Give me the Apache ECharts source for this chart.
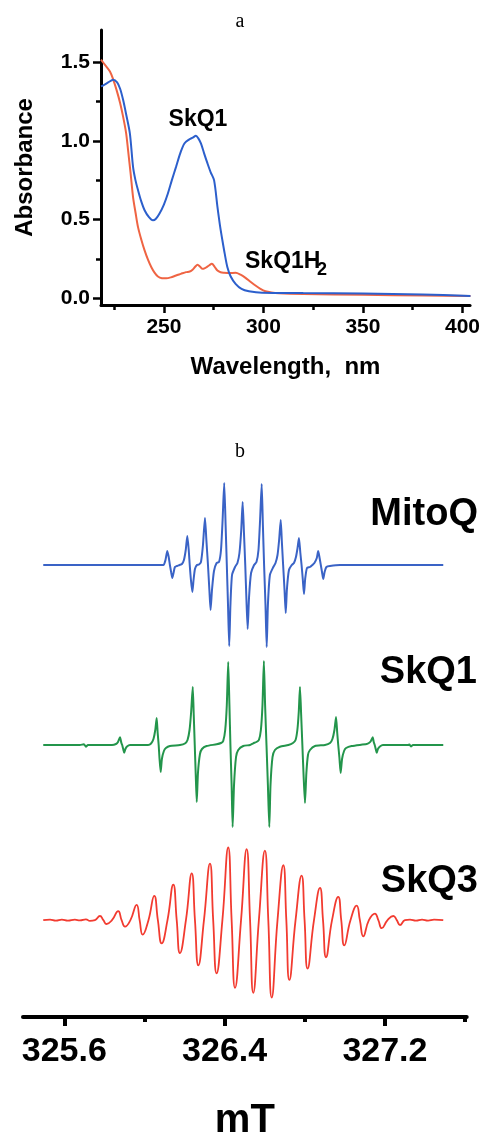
<!DOCTYPE html>
<html>
<head>
<meta charset="utf-8">
<script src="https://cdn.jsdelivr.net/npm/echarts@6/dist/echarts.min.js"></script>
<style>
html,body{margin:0;padding:0;background:#fff;}
#main{width:483px;height:1142px;}
</style>
</head>
<body>
<div id="main"></div>
<script>
// panel a: absorbance spectra [wavelength nm, absorbance]
var skq1Abs = [[218.4,1.345],[220,1.355],[222,1.37],[224.5,1.387],[226.5,1.37],[228,1.33],[229.5,1.26],[231,1.17],[232.9,1.047],[234.5,0.834],[235.7,0.75],[237,0.686],[238.5,0.62],[240.3,0.559],[242.5,0.515],[244.5,0.495],[246,0.505],[247.8,0.538],[250,0.595],[252,0.665],[254,0.75],[256.1,0.834],[258.2,0.92],[260.3,0.983],[262.8,1.009],[264.5,1.02],[266.1,1.032],[267.3,1.015],[268.6,0.983],[270.2,0.92],[271.9,0.856],[273.5,0.8],[275.2,0.75],[276.9,0.58],[278.2,0.46],[279.4,0.367],[280.6,0.28],[281.9,0.197],[283.5,0.14],[286,0.092],[289,0.06],[292.7,0.045],[299.3,0.035],[320,0.033],[350,0.03],[380,0.024],[404,0.015]];
var skq1h2Abs = [[218.4,1.515],[220.5,1.48],[222.9,1.44],[224.5,1.39],[226.2,1.323],[228,1.24],[229.5,1.153],[231,1.05],[232,0.94],[233.3,0.79],[234.5,0.643],[235.8,0.54],[237,0.452],[238.7,0.37],[240.3,0.304],[242,0.245],[243.7,0.197],[245.3,0.163],[247,0.138],[249,0.128],[251.2,0.127],[253.5,0.133],[256.1,0.145],[258.5,0.155],[261.1,0.166],[263,0.17],[264.4,0.181],[265.7,0.2],[266.9,0.213],[268.2,0.2],[269.4,0.187],[270.4,0.19],[271.4,0.197],[272.8,0.21],[274.1,0.219],[275.5,0.2],[276.9,0.176],[278.5,0.165],[280.2,0.162],[283,0.16],[286,0.162],[288.5,0.15],[291,0.13],[293.5,0.105],[296,0.081],[298.5,0.06],[301,0.045],[304,0.037],[307.6,0.032],[320,0.027],[350,0.022],[380,0.018],[404,0.014]];
var absXTicks = [250, 300, 350, 400];
var absXMinor = [225, 275, 325, 375];
var absYTicks = [0, 0.5, 1.0, 1.5];
var absYMinor = [0.25, 0.75, 1.25];

// panel b: EPR spectra [field mT, signal a.u.]
var mitoq = [[325.495,0],[325.778,0],[325.978,0],[326.077,0],[326.095,0],[326.105,5],[326.114,14],[326.121,8],[326.127,0],[326.134,-8],[326.139,-13],[326.145,-8],[326.152,-2],[326.162,-1],[326.175,0],[326.187,1],[326.197,5],[326.206,15],[326.214,29],[326.221,15],[326.226,0],[326.232,-15],[326.239,-27],[326.245,-15],[326.252,-4],[326.262,0],[326.272,0.5],[326.282,3],[326.292,20],[326.302,47],[326.309,25],[326.317,0],[326.324,-25],[326.330,-45],[326.337,-25],[326.347,-6],[326.360,2],[326.372,3],[326.382,15],[326.390,45],[326.398,82],[326.405,40],[326.411,0],[326.417,-40],[326.423,-81],[326.429,-40],[326.437,-10],[326.452,-2],[326.464,2],[326.474,12],[326.483,35],[326.490,63],[326.497,30],[326.503,0],[326.509,-35],[326.515,-64],[326.522,-32],[326.532,-8],[326.547,0],[326.559,3],[326.569,15],[326.577,45],[326.585,81],[326.591,40],[326.597,0],[326.604,-40],[326.610,-82],[326.616,-40],[326.626,-10],[326.643,-2],[326.654,2],[326.664,10],[326.672,25],[326.680,45],[326.686,22],[326.692,0],[326.699,-25],[326.705,-48],[326.711,-24],[326.721,-5],[326.735,0],[326.746,2],[326.756,8],[326.764,17],[326.771,27],[326.778,12],[326.784,0],[326.790,-14],[326.796,-29],[326.802,-14],[326.811,-3],[326.826,-2],[326.838,0],[326.848,2],[326.860,7],[326.867,14],[326.874,7],[326.880,0],[326.886,-7],[326.892,-14],[326.899,-7],[326.908,-2],[326.926,-1],[326.976,0],[327.491,0]];
var skq1 = [[325.495,0],[325.678,0],[325.698,0.7],[325.708,-1.7],[325.718,0],[325.838,0],[325.858,1],[325.868,3],[325.878,7.7],[325.885,2],[325.889,0],[325.894,-4],[325.899,-7.7],[325.905,-4],[325.913,-1.5],[325.928,0],[326.018,0],[326.033,1.5],[326.045,6],[326.054,15],[326.061,27],[326.066,12],[326.071,0],[326.075,-13],[326.081,-27],[326.087,-14],[326.097,-6],[326.107,-3],[326.127,-1],[326.177,0],[326.202,1.5],[326.215,5],[326.225,15],[326.233,33],[326.241,58],[326.246,30],[326.251,0],[326.256,-30],[326.261,-57],[326.267,-28],[326.277,-9],[326.287,-4],[326.310,-1],[326.360,0.7],[326.382,2],[326.393,4],[326.403,15],[326.411,40],[326.418,83],[326.424,40],[326.429,0],[326.435,-40],[326.440,-82],[326.447,-40],[326.457,-12],[326.468,-5],[326.493,-1],[326.527,0],[326.543,1.7],[326.559,3],[326.571,5],[326.581,15],[326.589,40],[326.596,84],[326.602,40],[326.609,0],[326.616,-40],[326.623,-82],[326.629,-40],[326.639,-12],[326.651,-5],[326.676,-1.7],[326.718,0],[326.741,2],[326.754,5],[326.763,15],[326.770,33],[326.776,58],[326.782,30],[326.788,0],[326.794,-30],[326.801,-58],[326.808,-28],[326.816,-10],[326.826,-5],[326.851,-1],[326.901,0],[326.926,2],[326.938,6],[326.948,15],[326.956,28],[326.962,12],[326.967,0],[326.973,-13],[326.979,-28],[326.986,-14],[326.996,-6],[327.006,-3],[327.034,-1],[327.109,1],[327.120,2],[327.130,4],[327.139,7.7],[327.144,3],[327.149,0],[327.154,-4],[327.159,-7.7],[327.165,-4],[327.175,-1.5],[327.190,0],[327.315,0],[327.322,0.5],[327.330,-1.5],[327.340,0],[327.491,0]];
var skq3 = [[325.495,0],[325.529,0.5],[325.558,-0.5],[325.588,0.5],[325.618,-0.5],[325.653,0.5],[325.678,-0.3],[325.708,0.8],[325.728,-0.8],[325.753,0],[325.778,4.3],[325.795,0],[325.811,-4],[325.838,0],[325.869,9.3],[325.886,0],[325.903,-6.7],[325.930,0],[325.961,15.7],[325.976,0],[325.991,-15],[326.020,0],[326.049,25],[326.067,0],[326.086,-24],[326.115,0],[326.144,36.7],[326.161,0],[326.177,-34],[326.207,0],[326.236,48.3],[326.252,0],[326.269,-46.7],[326.297,0],[326.327,58.3],[326.343,0],[326.360,-55],[326.389,0],[326.418,75],[326.435,0],[326.452,-70],[326.482,0],[326.510,73.3],[326.527,0],[326.543,-75],[326.571,0],[326.601,71.7],[326.618,0],[326.635,-80],[326.664,0],[326.693,56.7],[326.708,0],[326.723,-61.7],[326.754,0],[326.784,46],[326.799,0],[326.814,-50],[326.846,0],[326.876,33.3],[326.891,0],[326.906,-38.3],[326.936,0],[326.967,24],[326.982,0],[326.997,-26],[327.028,0],[327.059,15],[327.075,0],[327.092,-16.7],[327.120,0],[327.150,6.7],[327.167,0],[327.184,-8.3],[327.213,0],[327.242,4.3],[327.259,0],[327.275,-5],[327.300,0],[327.325,0.6],[327.355,-0.5],[327.385,0.6],[327.415,-0.4],[327.445,0.5],[327.491,0]];
var eprTicks = [325.6, 326.4, 327.2];
var eprMinor = [326.0, 326.8, 327.6];

var FONT = '"Liberation Sans", Arial, Helvetica, sans-serif';
var SERIF = '"Liberation Serif", "Times New Roman", serif';
var EPR_MIN = 325.394, EPR_MAX = 327.608;

function hiddenAxis(grid, min, max) {
    return {gridIndex: grid, type: 'value', min: min, max: max, show: false};
}

var myChart = echarts.init(document.getElementById('main'));
var option = {
    animation: false,
    backgroundColor: '#fff',
    grid: [
        {left: 101, top: 30, width: 372, height: 275},
        {left: 23, top: 465, width: 443.7, height: 200},
        {left: 23, top: 645, width: 443.7, height: 200},
        {left: 23, top: 823.3, width: 443.7, height: 200}
    ],
    xAxis: [
        {
            gridIndex: 0, type: 'value', min: 218.4, max: 403.8,
            axisLine: {onZero: false, lineStyle: {color: '#000', width: 3}},
            axisTick: {customValues: absXTicks, length: 8, lineStyle: {color: '#000', width: 2.5}},
            axisLabel: {customValues: absXTicks, margin: 12, color: '#000', fontSize: 21, fontWeight: 'bold', fontFamily: FONT},
            splitLine: {show: false},
            name: 'Wavelength,  nm', nameLocation: 'middle', nameGap: 50,
            nameTextStyle: {color: '#000', fontSize: 24, fontWeight: 'bold', fontFamily: FONT}
        },
        {
            gridIndex: 0, type: 'value', min: 218.4, max: 403.8, position: 'bottom',
            axisLine: {show: false, onZero: false},
            axisTick: {customValues: absXMinor, length: 5, lineStyle: {color: '#000', width: 2.5}},
            axisLabel: {show: false}, splitLine: {show: false}
        },
        hiddenAxis(1, EPR_MIN, EPR_MAX),
        hiddenAxis(2, EPR_MIN, EPR_MAX),
        {
            gridIndex: 3, type: 'value', min: EPR_MIN, max: EPR_MAX,
            axisLine: {onZero: false, lineStyle: {color: '#000', width: 4, cap: 'round'}},
            axisTick: {customValues: eprTicks, length: 9, lineStyle: {color: '#000', width: 4}},
            axisLabel: {customValues: eprTicks, margin: 18, color: '#000', fontSize: 34, fontWeight: 'bold', fontFamily: FONT,
                formatter: function (v) { return v.toFixed(1); }},
            splitLine: {show: false},
            name: 'mT', nameLocation: 'middle', nameGap: 84,
            nameTextStyle: {color: '#000', fontSize: 40, fontWeight: 'bold', fontFamily: FONT}
        },
        {
            gridIndex: 3, type: 'value', min: EPR_MIN, max: EPR_MAX, position: 'bottom',
            axisLine: {show: false, onZero: false},
            axisTick: {customValues: eprMinor, length: 5, lineStyle: {color: '#000', width: 4}},
            axisLabel: {show: false}, splitLine: {show: false}
        }
    ],
    yAxis: [
        {
            gridIndex: 0, type: 'value', min: -0.0425, max: 1.703,
            axisLine: {onZero: false, lineStyle: {color: '#000', width: 3}},
            axisTick: {customValues: absYTicks, length: 8, lineStyle: {color: '#000', width: 2.5}},
            axisLabel: {customValues: absYTicks, margin: 11, color: '#000', fontSize: 21, fontWeight: 'bold', fontFamily: FONT,
                formatter: function (v) { return v.toFixed(1); }},
            splitLine: {show: false},
            name: 'Absorbance', nameLocation: 'middle', nameGap: 64, nameRotate: 90,
            nameTextStyle: {color: '#000', fontSize: 24, fontWeight: 'bold', fontFamily: FONT}
        },
        {
            gridIndex: 0, type: 'value', min: -0.0425, max: 1.703, position: 'left',
            axisLine: {show: false, onZero: false},
            axisTick: {customValues: absYMinor, length: 5, lineStyle: {color: '#000', width: 2.5}},
            axisLabel: {show: false}, splitLine: {show: false}
        },
        hiddenAxis(1, -100, 100),
        hiddenAxis(2, -100, 100),
        hiddenAxis(3, -100, 100)
    ],
    series: [
        {name: 'SkQ1H2', type: 'line', xAxisIndex: 0, yAxisIndex: 0, data: skq1h2Abs, showSymbol: false, smooth: 0.3,
            lineStyle: {color: '#ef6443', width: 2}},
        {name: 'SkQ1', type: 'line', xAxisIndex: 0, yAxisIndex: 0, data: skq1Abs, showSymbol: false, smooth: 0.3,
            lineStyle: {color: '#2c5fcc', width: 2}},
        {name: 'MitoQ', type: 'line', xAxisIndex: 2, yAxisIndex: 2, data: mitoq, showSymbol: false, smooth: 0.2,
            lineStyle: {color: '#3a63c6', width: 2}},
        {name: 'SkQ1 EPR', type: 'line', xAxisIndex: 3, yAxisIndex: 3, data: skq1, showSymbol: false, smooth: 0.2,
            lineStyle: {color: '#23954b', width: 2}},
        {name: 'SkQ3', type: 'line', xAxisIndex: 4, yAxisIndex: 4, data: skq3, showSymbol: false, smooth: 0.5,
            lineStyle: {color: '#f23b30', width: 1.8}}
    ],
    graphic: [
        {type: 'text', x: 240, y: 22, style: {text: 'a', fill: '#000', font: '20px ' + SERIF, align: 'center', verticalAlign: 'middle'}},
        {type: 'text', x: 198, y: 120, style: {text: 'SkQ1', fill: '#000', font: 'bold 23px ' + FONT, align: 'center', verticalAlign: 'middle'}},
        {type: 'text', x: 245, y: 262, style: {text: 'SkQ1H', fill: '#000', font: 'bold 23px ' + FONT, align: 'left', verticalAlign: 'middle'}},
        {type: 'text', x: 317, y: 270, style: {text: '2', fill: '#000', font: 'bold 18px ' + FONT, align: 'left', verticalAlign: 'middle'}},
        {type: 'text', x: 240, y: 452, style: {text: 'b', fill: '#000', font: '20px ' + SERIF, align: 'center', verticalAlign: 'middle'}},
        {type: 'text', x: 478, y: 515, style: {text: 'MitoQ', fill: '#000', font: 'bold 38px ' + FONT, align: 'right', verticalAlign: 'middle'}},
        {type: 'text', x: 477, y: 673, style: {text: 'SkQ1', fill: '#000', font: 'bold 38px ' + FONT, align: 'right', verticalAlign: 'middle'}},
        {type: 'text', x: 478, y: 882, style: {text: 'SkQ3', fill: '#000', font: 'bold 38px ' + FONT, align: 'right', verticalAlign: 'middle'}}
    ]
};
myChart.setOption(option);
</script>
</body>
</html>
